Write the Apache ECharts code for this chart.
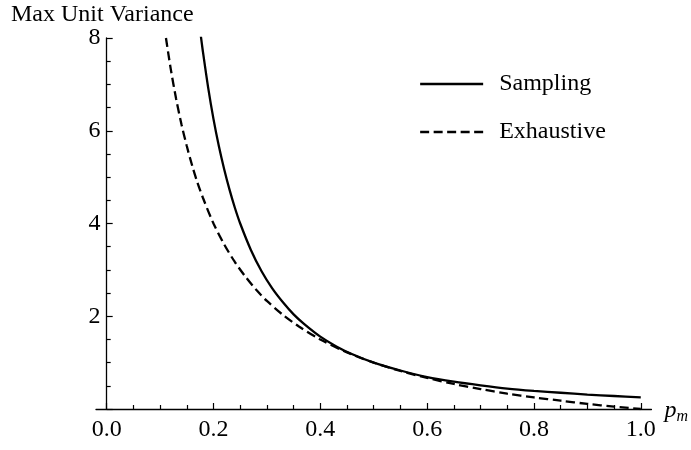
<!DOCTYPE html>
<html>
<head>
<meta charset="utf-8">
<script src="https://cdn.jsdelivr.net/npm/echarts@6/dist/echarts.min.js"></script>
<style>
  html, body { margin: 0; padding: 0; background: #fff; }
  #chart { width: 691px; height: 450px; }
</style>
</head>
<body>
<div id="chart"></div>
<script>
// Max unit variance against p_m for the two estimation schemes
const pSampling = [0.176, 0.18, 0.19, 0.20, 0.21, 0.22, 0.23, 0.24, 0.25, 0.27, 0.29, 0.31, 0.33, 0.35, 0.37, 0.40, 0.43, 0.46, 0.50, 0.55, 0.60, 0.65, 0.70, 0.75, 0.80, 0.85, 0.90, 0.95, 1.00];
const vSampling = [8.07, 7.72, 6.93, 6.25, 5.67, 5.17, 4.73, 4.34, 4.00, 3.43, 2.97, 2.60, 2.30, 2.04, 1.83, 1.56, 1.35, 1.18, 1.00, 0.83, 0.69, 0.59, 0.51, 0.44, 0.39, 0.35, 0.31, 0.28, 0.25];

const pExhaustive = [0.111, 0.12, 0.13, 0.14, 0.15, 0.16, 0.17, 0.18, 0.20, 0.22, 0.24, 0.26, 0.28, 0.30, 0.33, 0.36, 0.40, 0.45, 0.50, 0.55, 0.60, 0.65, 0.70, 0.75, 0.80, 0.85, 0.90, 0.95, 1.00];
const vExhaustive = [8.00, 7.33, 6.69, 6.14, 5.67, 5.25, 4.88, 4.56, 4.00, 3.55, 3.17, 2.85, 2.57, 2.33, 2.03, 1.78, 1.50, 1.22, 1.00, 0.82, 0.67, 0.54, 0.43, 0.33, 0.25, 0.18, 0.11, 0.05, 0.00];

const xMajorTicks = [0, 0.2, 0.4, 0.6, 0.8, 1.0];
const xMinorTicks = [0.05, 0.1, 0.15, 0.25, 0.3, 0.35, 0.45, 0.5, 0.55, 0.65, 0.7, 0.75, 0.85, 0.9, 0.95];
const xTickLabels = ['0.0', '0.2', '0.4', '0.6', '0.8', '1.0'];
const yTickLabels = { 2: '2', 4: '4', 6: '6', 8: '8' };

const seriesNames = ['Sampling', 'Exhaustive'];

const FONT = 'Liberation Serif';
const FS = 24;
const INK = '#000';
const CURVE_W = 2.3;

const toPairs = (xs, ys) => xs.map((x, i) => [x, ys[i]]);

const chart = echarts.init(document.getElementById('chart'), null, { renderer: 'canvas' });

chart.setOption({
  backgroundColor: '#fff',
  animation: false,
  textStyle: { fontFamily: FONT, color: INK },
  title: {
    text: 'Max Unit Variance',
    left: 11,
    top: 3,
    padding: 0,
    textStyle: { fontFamily: FONT, fontSize: FS, fontWeight: 'normal', color: INK }
  },
  legend: {
    orient: 'vertical',
    left: 414,
    top: 67,
    itemWidth: 63,
    itemHeight: 14,
    itemGap: 24,
    data: seriesNames,
    selectedMode: false,
    itemStyle: { opacity: 0, borderWidth: 0 },
    lineStyle: { width: CURVE_W },
    textStyle: { fontFamily: FONT, fontSize: FS, lineHeight: FS, color: INK, padding: [0, 0, 0, 11] }
  },
  grid: { left: 96, right: 39, top: 38, bottom: 41, containLabel: false },
  xAxis: [
    {
      type: 'value',
      min: -0.02,
      max: 1.02,
      position: 'bottom',
      splitLine: { show: false },
      axisLine: { show: true, onZero: true, lineStyle: { color: INK, width: 1.3 } },
      axisTick: { show: true, inside: true, length: 6, customValues: xMajorTicks, lineStyle: { color: INK, width: 1.2 } },
      axisLabel: {
        show: true,
        customValues: xMajorTicks,
        margin: 9,
        fontFamily: FONT,
        fontSize: FS,
        color: INK,
        formatter: (v) => xTickLabels[xMajorTicks.findIndex((t) => Math.abs(t - v) < 1e-9)]
      },
      name: '{p|p}{m|m}',
      nameLocation: 'end',
      nameGap: 13,
      nameTextStyle: {
        rich: {
          p: { fontFamily: FONT, fontStyle: 'italic', fontSize: FS, color: INK, padding: [4, 0, 0, 0] },
          m: { fontFamily: FONT, fontStyle: 'italic', fontSize: 16, color: INK, padding: [16, 0, 0, 0] }
        }
      }
    },
    {
      type: 'value',
      min: -0.02,
      max: 1.02,
      position: 'bottom',
      splitLine: { show: false },
      axisLine: { show: false },
      axisLabel: { show: false },
      axisTick: { show: true, inside: true, length: 4, customValues: xMinorTicks, lineStyle: { color: INK, width: 1.2 } }
    }
  ],
  yAxis: {
    type: 'value',
    min: 0,
    max: 8,
    interval: 2,
    splitLine: { show: false },
    axisLine: { show: true, onZero: true, onZeroAxisIndex: 0, lineStyle: { color: INK, width: 1.3 } },
    axisTick: { show: true, inside: true, length: 6, lineStyle: { color: INK, width: 1.2 } },
    minorTick: { show: true, splitNumber: 4, length: 4, lineStyle: { color: INK, width: 1.2 } },
    axisLabel: {
      margin: -4.5,
      fontFamily: FONT,
      fontSize: FS,
      color: INK,
      formatter: (v) => yTickLabels[v] || ''
    }
  },
  series: [
    {
      name: seriesNames[0],
      type: 'line',
      xAxisIndex: 0,
      data: toPairs(pSampling, vSampling),
      showSymbol: false,
      symbol: 'none',
      smooth: 0.3,
      clip: true,
      color: INK,
      lineStyle: { color: INK, width: CURVE_W, type: 'solid' }
    },
    {
      name: seriesNames[1],
      type: 'line',
      xAxisIndex: 0,
      data: toPairs(pExhaustive, vExhaustive),
      showSymbol: false,
      symbol: 'none',
      smooth: 0.3,
      clip: true,
      color: INK,
      lineStyle: { color: INK, width: CURVE_W, type: [9, 4.5] }
    }
  ]
});
</script>
</body>
</html>
